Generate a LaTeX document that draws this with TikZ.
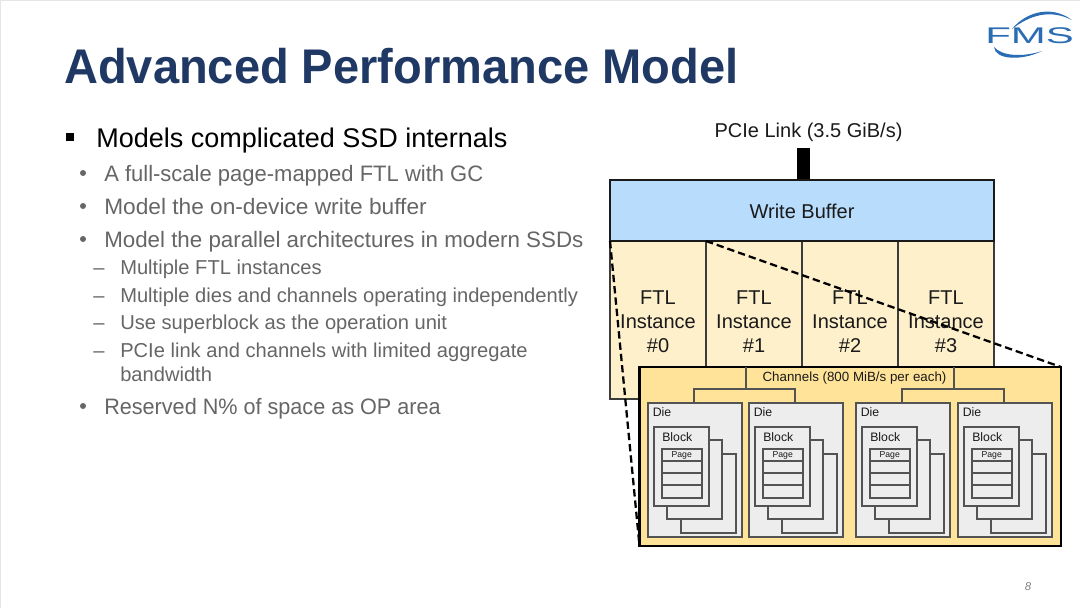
\documentclass[tikz,border=0pt]{standalone}
\usepackage{fontspec}
\setmainfont{Liberation Sans}
\usetikzlibrary{calc}
\definecolor{navy}{HTML}{1F3864}
\definecolor{subgray}{HTML}{666666}
\definecolor{fmsblue}{HTML}{2A6DB5}
\definecolor{wbblue}{HTML}{B8DCFC}
\definecolor{ftlfill}{HTML}{FFF0CC}
\definecolor{chfill}{HTML}{FFE398}
\definecolor{diefill}{HTML}{EDEDED}
\definecolor{ln}{HTML}{1A1A1A}
\newcommand{\fs}[1]{\fontsize{#1}{#1}\selectfont}
\tikzset{
  x=0.75pt,y=-0.75pt,
  thick box/.style={draw=ln,line width=1.9pt},
  thin box/.style={draw=ln!85,line width=1.3pt},
  chan/.style={draw=ln!75,line width=1pt},
  lead/.style={anchor=base west,inner sep=0pt,text=black},
  sub/.style={anchor=base west,inner sep=0pt,text=subgray},
  dashline/.style={draw=black,line width=1.7pt,dash pattern=on 5.5pt off 3pt},
  lbl/.style={inner sep=0pt,text=ln,align=center},
}
\begin{document}
\begin{tikzpicture}
\useasboundingbox (0,0) rectangle (1080,608);
\fill[white] (0,0) rectangle (1080,608);
\draw[black!10,line width=0.75pt] (0.5,608) -- (0.5,0.5) -- (1080,0.5);
% title
\node[anchor=base west,inner sep=0pt,text=navy,font=\fs{36.5}\bfseries] (title) at (64,83) {\scalebox{0.966}[1]{Advanced Performance Model}};
% logo
\fill[fmsblue] (1012,29) .. controls (1025,13) and (1050,4) .. (1072,20) .. controls (1050,9) and (1030,15) .. (1012,29) -- cycle;
\fill[fmsblue] (994,47) .. controls (995,60) and (1022,61) .. (1042,51) .. controls (1022,57.5) and (1002,56) .. (994,47) -- cycle;
\node[inner sep=0pt,text=fmsblue,font=\fs{17}] (logo) at (1029.5,36) {\scalebox{1.85}[1]{FMS}};
% page number
\node[inner sep=0pt,text=black!50,font=\fs{8.5}\itshape] (pg) at (1028,587) {8};
% bullets
\fill[black] (66,133) rectangle (74,141);
\node[lead,font=\fs{20.25}] (b1) at (96,147) {Models complicated SSD internals};
\foreach \yy/\sc/\tx in {181/0.985/A full-scale page-mapped FTL with GC,214/1.016/Model the on-device write buffer,247/1/Model the parallel architectures in modern SSDs,414/0.968/Reserved N\% of space as OP area}{
  \fill[subgray] (83,\yy-8) circle (3);
  \node[sub,font=\fs{16.75}] at (104,\yy) {\scalebox{\sc}[1]{\tx}};
}
\foreach \yy/\tx in {274/Multiple FTL instances,302/Multiple dies and channels operating independently,329/Use superblock as the operation unit,357/PCIe link and channels with limited aggregate}{
  \node[sub,font=\fs{15.1}] at (93,\yy) {–};
  \node[sub,font=\fs{15.1}] at (120,\yy) {\tx};
}
\node[sub,font=\fs{15.1}] (b2) at (120,381) {bandwidth};
% PCIe
\node[lbl,font=\fs{15}] (pcie) at (808.5,132) {PCIe Link (3.5 GiB/s)};
\fill[black] (797,148) rectangle (810,181);
% FTL
\foreach \a/\b/\n/\h in {610/706/0/399,706/802/1/367,802/898/2/367,898/994/3/367}{
  \path[fill=ftlfill,thin box] (\a,241) rectangle (\b,\h);
}
\foreach \n/\c in {0/658,1/754,2/850,3/946}{
  \node[lbl,font=\fs{15}] at (\c,298) {FTL};
  \node[lbl,font=\fs{15}] at (\c,322) {Instance};
  \node[lbl,font=\fs{15}] at (\c,346) {\#\n};
}
% write buffer
\path[fill=wbblue,thick box] (610,180) rectangle (994,241);
\node[lbl,font=\fs{15}] (wb) at (802,211) {Write Buffer};
% channels
\path[fill=chfill,draw=black,line width=1.9pt] (639.5,367) rectangle (1061,546);
\node[lbl,font=\fs{10}] (ch) at (854.5,378.5) {Channels (800 MiB/s per each)};
\draw[chan] (746,367) -- (746,389);
\draw[chan] (954,367) -- (954,389);
\draw[chan] (694,403) -- (694,389) -- (795,389) -- (795,403);
\draw[chan] (902,403) -- (902,389) -- (1004,389) -- (1004,403);
\foreach \d/\k in {648/a,749/b,856/c,958/d}{
  \path[fill=diefill,chan] (\d,403) rectangle ++(94,134);
  \node[anchor=base west,inner sep=0pt,text=ln,font=\fs{9.2}] (die\k) at (\d+4.5,416) {Die};
  \path[fill=diefill,chan] (\d+33,454) rectangle (\d+88,533);
  \path[fill=diefill,chan] (\d+19,440) rectangle (\d+74,519);
  \path[fill=diefill,chan] (\d+6,427) rectangle (\d+61,506);
  \node[anchor=base west,inner sep=0pt,text=ln,font=\fs{9.2}] at (\d+14,441) {Block};
  \draw[chan] (\d+14,449) rectangle (\d+54,498);
  \foreach \r in {461,473,485}{\draw[chan] (\d+14,\r) -- (\d+54,\r);}
  \node[inner sep=0pt,text=ln,font=\fs{6.5}] at (\d+33.7,455.5) {Page};
}
% zoom lines
\draw[dashline] (610,241) -- (639.5,546);
\draw[dashline] (706,241) -- (1061,367);
\end{tikzpicture}
\end{document}
